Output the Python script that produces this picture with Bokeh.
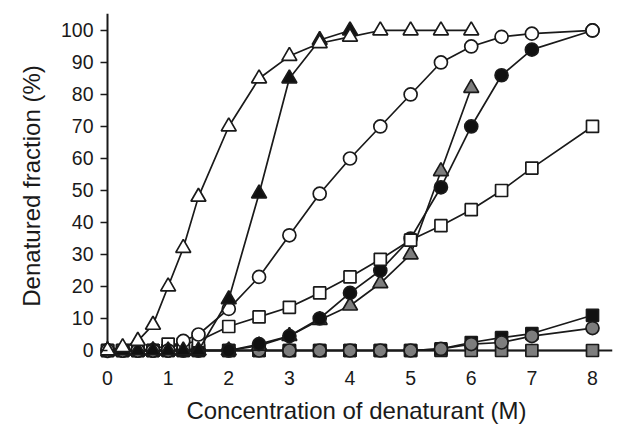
from bokeh.plotting import figure
from bokeh.models import Range1d, FixedTicker, Span
from bokeh.embed import file_html
from bokeh.resources import INLINE

# ---- data ----
X = [0, 0.25, 0.5, 0.75, 1, 1.25, 1.5, 2, 2.5, 3, 3.5, 4, 4.5, 5, 5.5, 6, 6.5, 7, 8]

open_tri_x = X[:16]
open_tri = [0, 1, 3, 8, 20, 32, 48, 70, 85, 92, 96, 98, 100, 100, 100, 100]

black_tri_x = X[:12]
black_tri = [0, 0, 0, 0, 0, 0, 0, 16, 49, 85, 97, 100]

grey_tri_x = X[:16]
grey_tri = [0, 0, 0, 0, 0, 0, 0, 0, 1.5, 4.5, 9.5, 14, 21, 30, 56, 82]

open_circ = [0, 0, 0, 0, 0, 3, 5, 13, 23, 36, 49, 60, 70, 80, 90, 95, 98, 99, 100]
black_circ = [0, 0, 0, 0, 0, 0, 0, 0, 2, 4.5, 10, 18, 25, 35, 51, 70, 86, 94, 100]
open_sq = [0, 0, 0, 0, 2, 2, 3, 7.5, 10.5, 13.5, 18, 23, 28.5, 34.5, 39, 44, 50, 57, 70]
black_sq = [0, 0, 0, 0, 0, 0, 0, 0, 0, 0, 0, 0, 0, 0, 0.5, 2.5, 4, 5.3, 11]
grey_circ = [0, 0, 0, 0, 0, 0, 0, 0, 0, 0, 0, 0, 0, 0, 0.5, 2, 2.5, 4.5, 7]
grey_sq = [0] * 19

x_ticks = [0, 1, 2, 3, 4, 5, 6, 7, 8]
y_ticks = [0, 10, 20, 30, 40, 50, 60, 70, 80, 90, 100]

# ---- figure ----
p = figure(width=618, height=434, output_backend="svg", toolbar_location=None,
           x_range=Range1d(-0.1155, 8.33), y_range=Range1d(-2.5, 105.3),
           min_border_left=100, min_border_right=6, min_border_top=13, min_border_bottom=76)
p.frame_width = 512
p.frame_height = 345
p.outline_line_color = None
p.grid.grid_line_color = None
p.background_fill_color = "white"
p.border_fill_color = "white"

FONT = "Liberation Sans"
INK = "#1a1a1a"

for ax in (p.xaxis[0], p.yaxis[0]):
    ax.major_label_text_font = FONT
    ax.major_label_text_font_size = "19.5px"
    ax.major_label_text_color = INK
    ax.axis_label_text_font = FONT
    ax.axis_label_text_font_size = "24px"
    ax.axis_label_text_font_style = "normal"
    ax.axis_label_text_color = INK
    ax.axis_line_color = None
    ax.minor_tick_line_color = None
    ax.major_tick_line_color = INK
    ax.major_tick_line_width = 1.5

p.xaxis.ticker = FixedTicker(ticks=x_ticks)
p.yaxis.ticker = FixedTicker(ticks=y_ticks)
p.xaxis.major_tick_line_color = None
p.xaxis.major_tick_out = 0
p.xaxis.major_tick_in = 0
p.yaxis.major_tick_out = 0
p.yaxis.major_tick_in = 7
p.xaxis.axis_label = "Concentration of denaturant (M)"
p.yaxis.axis_label = "Denatured fraction (%)"
p.xaxis.major_label_standoff = 12
p.yaxis.major_label_standoff = 7
p.xaxis.axis_label_standoff = 9
p.yaxis.axis_label_standoff = 13

# axis lines at data zero
p.add_layout(Span(location=0, dimension="height", line_color=INK, line_width=2, level="underlay"))
p.add_layout(Span(location=0, dimension="width", line_color=INK, line_width=2, level="underlay"))

LW = 1.7
GREY = "#7d7d7d"
BLACK = "#111111"


def series(xs, ys, marker, fill, size):
    p.line(xs, ys, line_color=INK, line_width=LW)
    p.scatter(xs, ys, marker=marker, size=size, fill_color=fill,
              line_color=INK, line_width=LW)


series(X, grey_sq, "square", GREY, 12)
series(X, black_sq, "square", BLACK, 12)
series(X, grey_circ, "circle", GREY, 13)
series(grey_tri_x, grey_tri, "triangle", GREY, 15)
series(X, black_circ, "circle", BLACK, 13)
series(X, open_sq, "square", "white", 12)
series(X, open_circ, "circle", "white", 13)
series(black_tri_x, black_tri, "triangle", BLACK, 15)
series(open_tri_x, open_tri, "triangle", "white", 15)

open("out.html", "w").write(file_html(p, INLINE))
